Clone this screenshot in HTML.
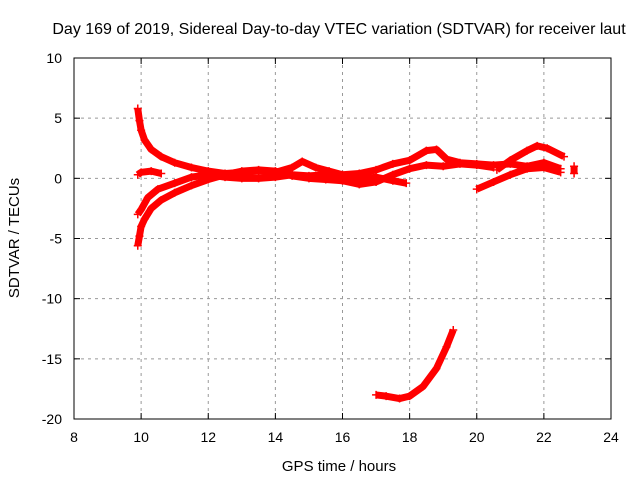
<!DOCTYPE html>
<html><head><meta charset="utf-8"><style>
body{margin:0;background:#fff}
svg{display:block;font-family:"Liberation Sans",sans-serif}
</style></head><body>
<svg id="c" width="640" height="480">
<rect width="640" height="480" fill="#fff"/>
<text x="339" y="34" font-size="16" text-anchor="middle">Day 169 of 2019, Sidereal Day-to-day VTEC variation (SDTVAR) for receiver laut</text>
<text x="339" y="471" font-size="15" text-anchor="middle">GPS time / hours</text>
<text transform="translate(19,238) rotate(-90)" font-size="15" text-anchor="middle">SDTVAR / TECUs</text>
<g id="grid"></g><g id="marks"></g>
<rect x="74" y="58" width="537" height="361" fill="none" stroke="#000" stroke-width="1"/>
</svg>
<script>
const xTicks=[8,10,12,14,16,18,20,22,24];
const yTicks=[10,5,0,-5,-10,-15,-20];
const s1x=[9.9,9.95,10,10.1,10.3,10.6,11,11.5,12,12.5,13,13.5,14,14.5,14.8,15.2,15.6,16,16.5,17,17.5,18,18.5,18.8,19.1,19.5,20,20.5,21,21.5,22,22.5];
const s1y=[5.8,4.8,4.0,3.2,2.4,1.8,1.3,0.9,0.6,0.4,0.5,0.6,0.5,0.9,1.4,0.9,0.6,0.3,0.4,0.7,1.2,1.5,2.3,2.4,1.6,1.3,1.2,1.1,1.2,1.0,1.3,0.8];
const s2x=[9.9,9.95,10,10.1,10.3,10.6,11,11.5,12,12.5,13,13.5,14,14.5,15,15.5,16,16.5,17,17.5,18,18.5,19,19.5,20,20.5];
const s2y=[-5.6,-4.8,-4.0,-3.4,-2.5,-1.8,-1.2,-0.6,-0.1,0.3,0.6,0.7,0.6,0.2,0.0,-0.1,-0.2,-0.5,-0.3,0.3,0.8,1.1,1.0,1.2,1.1,0.9];
const s3x=[9.9,10,10.2,10.5,11,11.5,12,12.5,13,13.5,14,14.5,15,15.5,16,16.5,17,17.5,17.9];
const s3y=[-3.0,-2.6,-1.6,-0.9,-0.4,0.1,0.3,0.1,0.0,0.0,0.1,0.3,0.2,0.3,0.0,-0.1,0.1,-0.2,-0.4];
const s4x=[9.9,10,10.3,10.6];
const s4y=[0.3,0.5,0.6,0.4];
const s5x=[20,20.5,21,21.5,22,22.5];
const s5y=[-0.9,-0.3,0.3,0.8,0.9,0.5];
const s6x=[20.6,21,21.5,21.8,22.1,22.6];
const s6y=[0.7,1.5,2.3,2.7,2.5,1.8];
const s7x=[22.9,22.9];
const s7y=[0.4,1.0];
const s8x=[17,17.3,17.7,18,18.4,18.8,19.1,19.3];
const s8y=[-18,-18.1,-18.3,-18.1,-17.3,-15.8,-14.0,-12.6];
const series=[[s1x,s1y],[s2x,s2y],[s3x,s3y],[s4x,s4y],[s5x,s5y],[s6x,s6y],[s7x,s7y],[s8x,s8y]];
const X=v=>74+(v-8)*537/16, Y=v=>58+(10-v)*361/30;
const NS="http://www.w3.org/2000/svg";
const grid=document.getElementById('grid'), marks=document.getElementById('marks');
function mk(t,a,p){const e=document.createElementNS(NS,t);for(const k in a)e.setAttribute(k,a[k]);p.appendChild(e);return e;}
xTicks.forEach(v=>{const x=X(v);
 if(v>8&&v<24){const l=mk('line',{x1:x,x2:x,y1:58,y2:419,stroke:'#999','stroke-dasharray':'3,4'},grid);
 
 }
 const t=mk('line',{x1:x,x2:x,y1:419,y2:413,stroke:'#000'},grid);
 
 
 const tt=mk('line',{x1:x,x2:x,y1:58,y2:64,stroke:'#000'},grid);
 
 
 const tx=mk('text',{x:x,y:442,'font-size':14,'text-anchor':'middle'},grid);tx.textContent=v;
 
 });
yTicks.forEach(v=>{const y=Y(v);
 if(v<10&&v>-20){const l=mk('line',{x1:74,x2:611,y1:y,y2:y,stroke:'#999','stroke-dasharray':'3,4'},grid);
 
 }
 const t=mk('line',{x1:74,x2:80,y1:y,y2:y,stroke:'#000'},grid);
 
 
 const tr=mk('line',{x1:605,x2:611,y1:y,y2:y,stroke:'#000'},grid);
 
 
 const tx=mk('text',{x:62,y:y+5,'font-size':14,'text-anchor':'end'},grid);tx.textContent=v;
 
 });
series.forEach(([xs,ys],i)=>{
 const g=mk('g',{},marks);
 
 
 mk('polyline',{points:xs.map((x,j)=>X(x)+','+Y(ys[j])).join(' '),fill:'none',stroke:'#f00','stroke-width':7,'stroke-linejoin':'round'},g);
 xs.forEach((x,j)=>{const cx=X(x),cy=Y(ys[j]);
  const p=mk('path',{d:`M${cx-4} ${cy}h8M${cx} ${cy-4}v8`,stroke:'#f00','stroke-width':1.5},g);
  
  });
});
</script>
</body></html>
